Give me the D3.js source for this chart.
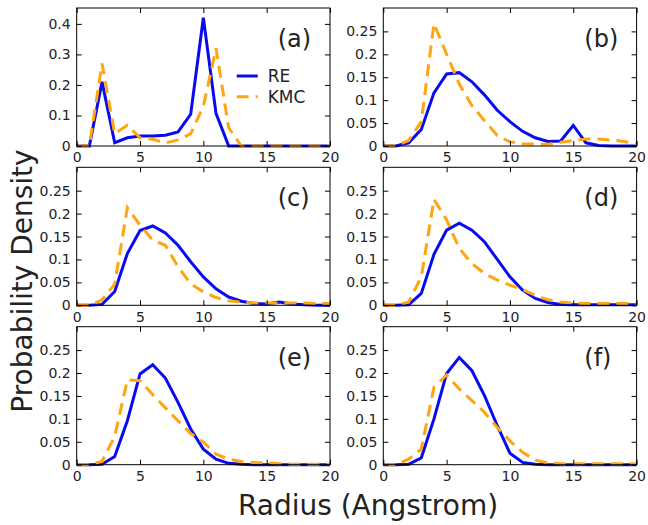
<!DOCTYPE html>
<html>
<head>
<meta charset="utf-8">
<script src="https://cdn.jsdelivr.net/npm/d3@7"></script>
<style>
  body { margin: 0; background: #fff; }
  svg { display: block; }
  text { font-family: "DejaVu Sans", sans-serif; fill: #222; }
</style>
</head>
<body>
<div id="chart"></div>
<script>
// radius bins (Angstrom)
const radius = [0, 1, 2, 3, 4, 5, 6, 7, 8, 9, 10, 11, 12, 13, 14, 15, 16, 17, 18, 19, 20];

const panelLabels = ["(a)", "(b)", "(c)", "(d)", "(e)", "(f)"];

// RE (solid blue)
const reA = [0, 0, 0.21, 0.011, 0.027, 0.033, 0.033, 0.035, 0.046, 0.104, 0.42, 0.107, 0, 0, 0, 0, 0, 0, 0, 0, 0];
const reB = [0, 0, 0.007, 0.036, 0.116, 0.157, 0.16, 0.14, 0.111, 0.078, 0.053, 0.032, 0.018, 0.01, 0.011, 0.045, 0.007, 0.001, 0, 0, 0];
const reC = [0, 0, 0.002, 0.03, 0.113, 0.163, 0.173, 0.158, 0.131, 0.095, 0.062, 0.036, 0.018, 0.009, 0.004, 0.003, 0.007, 0.003, 0.001, 0, 0];
const reD = [0, 0, 0.001, 0.026, 0.111, 0.164, 0.179, 0.164, 0.138, 0.1, 0.062, 0.033, 0.015, 0.006, 0.002, 0.001, 0.001, 0.001, 0.001, 0.001, 0.001];
const reE = [0, 0, 0.001, 0.018, 0.096, 0.198, 0.218, 0.189, 0.136, 0.078, 0.034, 0.012, 0.003, 0.001, 0, 0, 0, 0, 0, 0, 0];
const reF = [0, 0, 0.001, 0.015, 0.1, 0.199, 0.234, 0.205, 0.15, 0.085, 0.025, 0.005, 0.001, 0, 0, 0, 0, 0, 0, 0, 0];

// KMC (dashed orange)
const kmcA = [0, 0, 0.27, 0.04, 0.068, 0.027, 0.022, 0.01, 0.02, 0.04, 0.13, 0.32, 0.06, 0, 0, 0, 0, 0, 0, 0, 0];
const kmcB = [0, 0, 0.012, 0.053, 0.267, 0.2, 0.135, 0.088, 0.055, 0.023, 0.009, 0.005, 0.004, 0.004, 0.008, 0.012, 0.015, 0.015, 0.013, 0.01, 0.005];
const kmcC = [0, 0, 0.012, 0.046, 0.213, 0.175, 0.142, 0.131, 0.084, 0.047, 0.029, 0.017, 0.01, 0.007, 0.005, 0.005, 0.005, 0.005, 0.005, 0.004, 0.004];
const kmcD = [0, 0, 0.007, 0.062, 0.231, 0.186, 0.124, 0.091, 0.069, 0.055, 0.044, 0.034, 0.022, 0.012, 0.007, 0.005, 0.004, 0.004, 0.004, 0.004, 0.004];
const kmcE = [0, 0, 0.007, 0.062, 0.185, 0.183, 0.153, 0.124, 0.096, 0.068, 0.049, 0.023, 0.012, 0.007, 0.005, 0.004, 0.002, 0.001, 0.001, 0.001, 0.001];
const kmcF = [0, 0, 0.012, 0.034, 0.169, 0.196, 0.165, 0.14, 0.114, 0.081, 0.052, 0.027, 0.01, 0.004, 0.002, 0.002, 0.002, 0.002, 0.002, 0.002, 0.002];

const xTicks = [0, 5, 10, 15, 20];
const yTicksA = [0, 0.1, 0.2, 0.3, 0.4];
const yTicksRest = [0, 0.05, 0.1, 0.15, 0.2, 0.25];

const reSeries = [reA, reB, reC, reD, reE, reF];
const kmcSeries = [kmcA, kmcB, kmcC, kmcD, kmcE, kmcF];

const width = 648, height = 525;
const panelW = 253.3, panelH = 138;
const colX = [76.7, 383.3];
const rowY = [8, 167.3, 326.7];
const blue = "#0a0af0", orange = "#ffa510";

const svg = d3.select("#chart").append("svg")
  .attr("width", width)
  .attr("height", height);

function drawPanel(i) {
  const x0 = colX[i % 2], y0 = rowY[Math.floor(i / 2)];
  const yMax = i === 0 ? 0.452 : 0.301;
  const yTicks = i === 0 ? yTicksA : yTicksRest;

  const x = d3.scaleLinear().domain([0, 20]).range([0, panelW]);
  const y = d3.scaleLinear().domain([0, yMax]).range([panelH, 0]);

  const g = svg.append("g").attr("transform", `translate(${x0},${y0})`);

  const line = d3.line().x((d, k) => x(radius[k])).y(d => y(d));

  g.append("path")
    .datum(reSeries[i])
    .attr("d", line)
    .attr("fill", "none")
    .attr("stroke", blue)
    .attr("stroke-width", 3)
    .attr("stroke-linejoin", "miter");

  g.append("path")
    .datum(kmcSeries[i])
    .attr("d", line)
    .attr("fill", "none")
    .attr("stroke", orange)
    .attr("stroke-width", 3)
    .attr("stroke-dasharray", "12,7");

  // axes, ticks inward on all sides
  const fmt = d => d3.format("")(+d.toFixed(2));
  const bottom = g.append("g").attr("transform", `translate(0,${panelH})`)
    .call(d3.axisBottom(x).tickValues(xTicks).tickSizeInner(-5).tickSizeOuter(0).tickPadding(6));
  const left = g.append("g")
    .call(d3.axisLeft(y).tickValues(yTicks).tickFormat(fmt).tickSizeInner(-5).tickSizeOuter(0).tickPadding(6));
  g.append("g")
    .call(d3.axisTop(x).tickValues(xTicks).tickSizeInner(-5).tickSizeOuter(0).tickFormat(""));
  g.append("g").attr("transform", `translate(${panelW},0)`)
    .call(d3.axisRight(y).tickValues(yTicks).tickSizeInner(-5).tickSizeOuter(0).tickFormat(""));

  g.selectAll(".domain").remove();
  g.selectAll(".tick line").attr("stroke", "#000");
  bottom.selectAll("text").attr("font-size", 14).attr("font-family", "DejaVu Sans").attr("fill", "#222").attr("dy", "0.95em").attr("y", 3);
  left.selectAll("text").attr("font-size", 14).attr("font-family", "DejaVu Sans").attr("fill", "#222");

  g.append("rect")
    .attr("width", panelW).attr("height", panelH)
    .attr("fill", "none").attr("stroke", "#000").attr("stroke-width", 1);

  g.append("text")
    .attr("x", 201).attr("y", 39)
    .attr("font-size", 24)
    .text(panelLabels[i]);

  if (i === 0) {
    const leg = [["RE", blue, null, 68], ["KMC", orange, "12,7", 88.7]];
    leg.forEach(([name, col, dash, ly]) => {
      g.append("line")
        .attr("x1", 160).attr("x2", 181).attr("y1", ly).attr("y2", ly)
        .attr("stroke", col).attr("stroke-width", 3)
        .attr("stroke-dasharray", dash);
      g.append("text")
        .attr("x", 191).attr("y", ly).attr("dy", "0.36em")
        .attr("font-size", 17)
        .text(name);
    });
  }
}

for (let i = 0; i < 6; i++) drawPanel(i);

svg.append("text")
  .attr("x", 368).attr("y", 515)
  .attr("text-anchor", "middle")
  .attr("font-size", 28)
  .text("Radius (Angstrom)");

svg.append("text")
  .attr("transform", "translate(32,281) rotate(-90)")
  .attr("text-anchor", "middle")
  .attr("font-size", 28)
  .text("Probability Density");
</script>
</body>
</html>
